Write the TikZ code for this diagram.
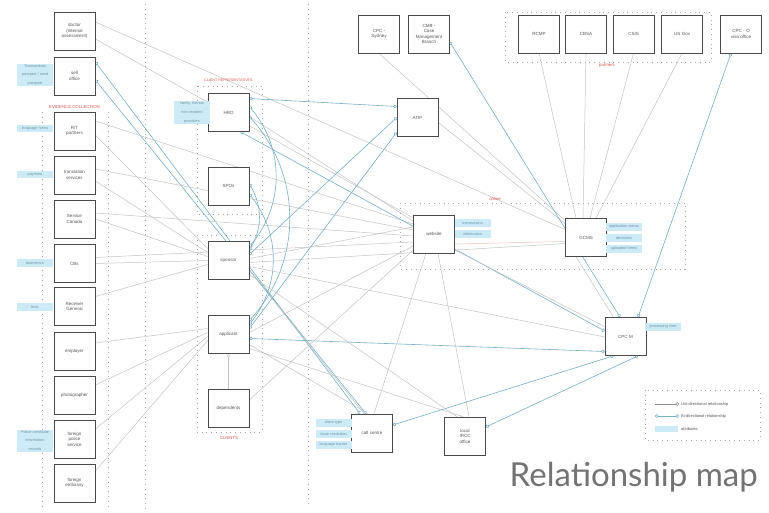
\documentclass[tikz,border=0pt]{standalone}
\usepackage{fontspec}
\setmainfont{Liberation Sans}
\newfontfamily\titlefont{Lato}
\usetikzlibrary{arrows.meta}
\pgfdeclarelayer{bg}
\pgfsetlayers{bg,main}
\definecolor{boxline}{HTML}{4A4A4A}
\definecolor{boxtext}{HTML}{555555}
\definecolor{uniline}{HTML}{C4C4C4}
\definecolor{biline}{HTML}{78B0C6}
\definecolor{attrfill}{HTML}{CDEBF6}
\definecolor{attrtext}{HTML}{6C94A6}
\definecolor{grouplabel}{HTML}{D9534F}
\definecolor{dotcol}{HTML}{A8A8A8}
\tikzset{
  ent/.style={draw=boxline, line width=0.7pt, fill=white, minimum width=41pt, minimum height=38pt,
    text width=39pt, align=center, inner sep=0pt, font=\fontsize{4.5}{5.6}\selectfont, text=boxtext},
  attr/.style={fill=attrfill, inner sep=1pt, minimum height=7.5pt, text width=34pt, align=center,
    font=\fontsize{3.8}{8.6}\selectfont, text=attrtext},
  grp/.style={text=grouplabel, font=\fontsize{4.3}{5}\selectfont, inner sep=0.5pt},
  sepline/.style={draw=dotcol, line width=0.8pt, dash pattern=on 0.8pt off 4pt},
  uni/.style={draw=uniline, line width=0.5pt},
  unired/.style={draw=grouplabel!35, line width=0.5pt},
  bi/.style={draw=biline, line width=0.6pt,
    arrows={Circle[open,length=3.5pt,width=3.5pt]-Circle[open,length=3.5pt,width=3.5pt]}},
  legtext/.style={anchor=west, font=\fontsize{4}{5}\selectfont, text=boxtext, inner sep=1pt},
}
\begin{document}
\begin{tikzpicture}[x=1pt,y=-1pt]
\useasboundingbox (0,0) rectangle (769,512);

% ---------- entities ----------
\node[ent] (doctor)   at (74.5,31)  {doctor\\(internal\\assessment)};
\node[ent] (sell)     at (74.5,76)  {sell\\office};
\node[ent] (rt)       at (74.5,131) {R/T\\partners};
\node[ent] (transl)   at (74.5,175) {translation\\services};
\node[ent] (servcan)  at (74.5,219) {Service\\Canada};
\node[ent] (cbs)      at (74.5,263.5) {CBs};
\node[ent] (recgen)   at (74.5,306.5) {Receiver\\General};
\node[ent] (employer) at (74.5,351) {employer};
\node[ent] (photo)    at (74.5,395) {photographer};
\node[ent] (police)   at (74.5,439) {foreign\\police\\service};
\node[ent] (embassy)  at (74.5,483) {foreign\\embassy};

\node[ent] (ircc)       at (228.5,112.5) {HRO};
\node[ent] (spos)       at (228.5,186)   {SPOs};
\node[ent] (sponsor)    at (228.5,260.5) {sponsor};
\node[ent] (applicant)  at (228.5,334.5) {applicant};
\node[ent] (dependents) at (228.5,408)   {dependents};

\node[ent] (cpc)   at (379,34)  {CPC -\\Sydney};
\node[ent] (cmb)   at (429,34)  {CMB -\\Case\\Management\\Branch};
\node[ent] (atip)  at (417.5,117.5) {ATIP};
\node[ent] (rcmp)  at (539,34)  {RCMP};
\node[ent] (cbsa)  at (586,34)  {CBSA};
\node[ent] (csis)  at (633.5,34) {CSIS};
\node[ent] (usgov) at (682,34)  {US Gov};
\node[ent] (visa)  at (741,34)  {CPC - O\\visa office};

\node[ent] (website) at (434,234)   {website};
\node[ent] (gcms)    at (586,237.5) {GCMS};
\node[ent] (cpcm)    at (625.5,336.5) {CPC M};
\node[ent] (callc)   at (372,433)   {call centre};
\node[ent] (local)   at (465,436)   {local\\IRCC\\office};

% ---------- attributes ----------
\node[attr] (a1) at (35,75)    {Transactions\\passport / send\\passport};
\node[attr] (a2) at (35,128.5) {language forms};
\node[attr] (a3) at (35,174.5) {payment};
\node[attr] (a4) at (35,263)   {biometrics};
\node[attr] (a5) at (35,307)   {fees};
\node[attr] (a6) at (35,440.5) {Police certificate\\information\\records};
\node[attr] (a7) at (192,112.5) {family, friends\\non-resident\\providers};
\node[attr] (a8) at (472.5,223) {transactions};
\node[attr] (a9) at (472.5,234) {information};
\node[attr] (a10) at (624,227) {application status};
\node[attr] (a11) at (624,238) {decisions};
\node[attr] (a12) at (624,249) {uploaded forms};
\node[attr] (a13) at (663,327) {processing time};
\node[attr] (a14) at (333.5,423) {client type};
\node[attr] (a15) at (333.5,434) {issue resolution};
\node[attr] (a16) at (333.5,445) {language barrier};

% ---------- groups ----------
\node[grp] (g1) at (74.5,107) {EVIDENCE COLLECTION};
\node[grp,font=\fontsize{3.6}{4.5}\selectfont] (g2) at (228.5,80) {CLIENT REPRESENTATIVES};
\node[grp] (g3) at (229,438) {CLIENTS};
\node[grp] (g4) at (495,199) {online};
\node[grp] (g5) at (607,66)  {partners};

\begin{pgfonlayer}{bg}
\fill[white] (0,0) rectangle (769,512);
\draw[sepline] (145,4) -- (145,510);
\draw[sepline] (308,4) -- (308,506);
\draw[sepline] (42,112) -- (42,506);
\draw[sepline] (108,112) -- (108,506);
\draw[sepline] (197,86) rectangle (262,214);
\draw[sepline] (197,235) rectangle (262,432);
\draw[sepline] (400,203) rectangle (685,269);
\draw[sepline] (505,12) rectangle (711,62);
\draw[sepline] (645,390) rectangle (760,440);

% ---------- connectors ----------
\draw[uni] ([yshift=9pt]doctor.east) -- ([yshift=8pt]gcms.west);
\draw[uni] ([yshift=-8pt]doctor.east) -- ([yshift=16pt]website.west);
\draw[bi]  ([yshift=14pt]sell.east) -- ([xshift=-12pt]callc.north);
\draw[bi]  ([yshift=-4pt]sell.east) -- ([xshift=-6pt]callc.north);

\draw[uni] ([yshift=10pt]rt.east) -- ([yshift=10pt]website.west);
\draw[uni] ([yshift=-4pt]rt.east) -- ([yshift=12pt]sponsor.west);
\draw[uni] ([yshift=6pt]transl.east) -- ([yshift=4pt]website.west);
\draw[uni] ([yshift=-6pt]transl.east) -- ([yshift=8pt]sponsor.west);
\draw[uni] (servcan.east) -- ([yshift=4pt]sponsor.west);
\draw[uni] ([yshift=6pt]servcan.east) -- ([yshift=-2pt]website.west);
\draw[uni] (cbs.east) -- (sponsor.west);
\draw[uni] ([yshift=6pt]cbs.east) -- ([yshift=-8pt]website.west);
\draw[uni] ([yshift=10pt]recgen.east) -- ([yshift=-4pt]sponsor.west);
\draw[uni] ([yshift=8pt]employer.east) -- ([yshift=6pt]applicant.west);
\draw[uni] ([yshift=10pt]photo.east) -- ([yshift=2pt]applicant.west);
\draw[uni] ([yshift=10pt]police.east) -- ([yshift=-2pt]applicant.west);
\draw[uni] ([yshift=12pt]embassy.east) -- ([yshift=-6pt]applicant.west);

\draw[bi]  ([yshift=14pt]ircc.east) -- ([yshift=11pt]atip.west);
\draw[uni] ([yshift=-4pt]ircc.east) -- ([yshift=13pt]website.west);
\draw[bi]  ([yshift=6pt]ircc.east) to[bend left=40] ([yshift=14pt]sponsor.east);
\draw[bi]  ([yshift=-4pt]ircc.east) to[bend left=42] ([yshift=14pt]applicant.east);
\draw[bi]  ([xshift=12pt]ircc.south) -- ([yshift=5.5pt]cpcm.west);
\draw[bi]  ([yshift=2pt]spos.east) to[bend left=30] ([yshift=10pt]sponsor.east);
\draw[bi]  ([yshift=-8pt]spos.east) to[bend left=38] ([yshift=10pt]applicant.east);

\draw[bi]  ([yshift=6pt]sponsor.east) -- (atip.west);
\draw[uni] ([yshift=2pt]sponsor.east) -- ([yshift=7pt]website.west);
\draw[uni] ([yshift=-2pt]sponsor.east) -- ([yshift=-6pt]gcms.west);
\draw[uni] ([yshift=-6pt]sponsor.east) -- ([yshift=-0.5pt]cpcm.west);
\draw[uni] ([yshift=-10pt]sponsor.east) -- ([xshift=-8pt]callc.north);
\draw[uni] ([yshift=-14pt]sponsor.east) -- ([xshift=-8pt]local.north);

\draw[bi]  ([yshift=6pt]applicant.east) -- ([yshift=-15pt]atip.west);
\draw[uni] ([yshift=2pt]applicant.east) -- ([yshift=-12pt]website.west);
\draw[bi]  ([yshift=-4pt]applicant.east) -- ([yshift=-15pt]cpcm.west);
\draw[uni] ([yshift=-10pt]applicant.east) -- ([xshift=-4pt]callc.north);
\draw[uni] ([yshift=-14pt]applicant.east) -- ([xshift=-2pt]local.north);
\draw[uni,arrows={Circle[open,length=3.5pt,width=3.5pt]-}] (applicant.south) -- (dependents.north);
\draw[uni] ([yshift=8pt]dependents.east) -- ([yshift=-16pt]website.west);

\draw[uni] ([yshift=-5pt]atip.east) -- ([yshift=14pt]gcms.west);
\draw[uni] (cpc.south) -- ([yshift=17pt]gcms.west);
\draw[bi]  ([yshift=-8pt]cmb.east) -- ([xshift=-5.5pt]cpcm.north);
\draw[uni] (rcmp.south) -- ([xshift=-10pt]gcms.north);
\draw[uni] (cbsa.south) -- ([xshift=-3pt]gcms.north);
\draw[uni] (csis.south) -- ([xshift=4pt]gcms.north);
\draw[uni] (usgov.south) -- ([xshift=10pt]gcms.north);
\draw[bi]  ([xshift=-10pt]visa.south) -- ([xshift=12.5pt]cpcm.north);

\draw[unired] ([yshift=-10pt]website.east) -- ([yshift=-4pt]gcms.west);
\draw[uni] ([yshift=-16pt]website.east) -- ([yshift=10pt]cpcm.west);
\draw[uni] ([xshift=-8pt]website.south) -- ([xshift=2pt]callc.north);
\draw[uni] ([xshift=4pt]website.south) -- ([xshift=4pt]local.north);
\draw[uni] ([xshift=-10pt]gcms.south) -- ([xshift=-12pt]cpcm.north);
\draw[bi]  ([yshift=8pt]callc.east) -- ([xshift=-12pt]cpcm.south);
\draw[bi]  ([yshift=9pt]local.east) -- ([xshift=12.5pt]cpcm.south);
\end{pgfonlayer}

% ---------- legend ----------
\coordinate (l1a) at (655,404); \coordinate (l1b) at (679,404);
\coordinate (l2a) at (655,416); \coordinate (l2b) at (679,416);
\draw[uni,draw=black!45,arrows={-Circle[open,length=3.5pt,width=3.5pt]}] (l1a) -- (l1b);
\draw[bi] (l2a) -- (l2b);
\fill[attrfill] (655,426) rectangle (678,432);
\node[legtext] (t1) at (680,404) {Uni-directional relationship};
\node[legtext] (t2) at (680,416) {Bi-directional relationship};
\node[legtext] (t3) at (680,429) {attributes};

% ---------- title ----------
\node[anchor=base east, inner sep=0pt, font=\titlefont\fontsize{33}{33}\selectfont, text=black!55] (title) at (758,486) {Relationship map};
\end{tikzpicture}
\end{document}
